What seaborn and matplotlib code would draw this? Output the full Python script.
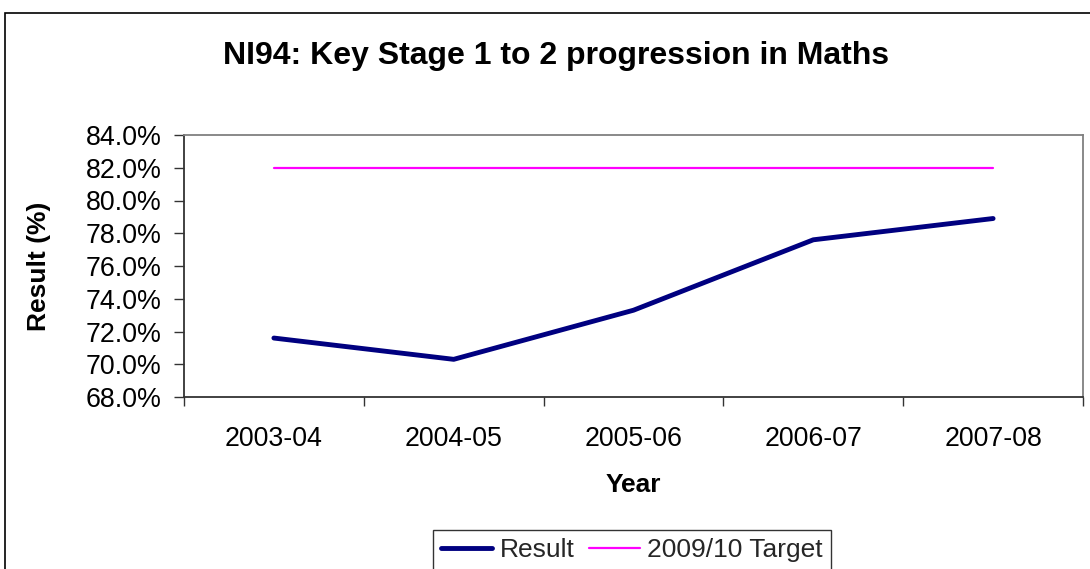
import pandas as pd
import matplotlib
matplotlib.use('Agg')
import matplotlib.pyplot as plt
import seaborn as sns
from matplotlib.patches import Rectangle
from matplotlib.ticker import FixedLocator, PercentFormatter

years = ['2003-04', '2004-05', '2005-06', '2006-07', '2007-08']
result = [71.6, 70.3, 73.3, 77.6, 78.9]
target = [82.0, 82.0, 82.0, 82.0, 82.0]
y_ticks = [68, 70, 72, 74, 76, 78, 80, 82, 84]

sns.set_style('white')
plt.rcParams['font.family'] = ['Liberation Sans', 'DejaVu Sans']

df = pd.DataFrame({'year': years, 'Result': result, '2009/10 Target': target})

fig = plt.figure(figsize=(10.9, 5.69), dpi=100)
ax = fig.add_axes([184 / 1090, 1 - 397 / 569, (1083 - 184) / 1090, (397 - 135) / 569])

sns.lineplot(data=df, x='year', y='Result', color='#000080', linewidth=3.5,
             label='Result', ax=ax, sort=False)
sns.lineplot(data=df, x='year', y='2009/10 Target', color='#FF00FF', linewidth=1.6,
             label='2009/10 Target', ax=ax, sort=False)

ax.set_xlim(-0.5, len(years) - 0.5)
ax.set_ylim(68, 84)
ax.set_yticks(y_ticks)
ax.yaxis.set_major_formatter(PercentFormatter(decimals=1))
ax.xaxis.set_minor_locator(FixedLocator([i - 0.5 for i in range(len(years) + 1)]))
ax.tick_params(axis='x', which='major', length=0, pad=21, labelsize=19.3, labelcolor='black')
ax.tick_params(axis='x', which='minor', length=6.5, width=1, color='#333333', direction='out')
ax.tick_params(axis='y', length=7, width=1, color='#333333', direction='out', pad=9,
               labelsize=19.3, labelcolor='black')
ax.tick_params(bottom=True, left=True, which='both')

for side in ['top', 'right']:
    ax.spines[side].set_color('#808080')
    ax.spines[side].set_linewidth(1.3)
for side in ['left', 'bottom']:
    ax.spines[side].set_color('#333333')
    ax.spines[side].set_linewidth(1.3)

ax.set_xlabel('Year', fontsize=19, fontweight='bold', color='black')
ax.set_ylabel('Result (%)', fontsize=19, fontweight='bold', color='black')
ax.xaxis.set_label_coords(0.5, -0.29)
ax.yaxis.set_label_coords(-0.148, 0.5)
fig.text(0.51, 1 - 56 / 569, 'NI94: Key Stage 1 to 2 progression in Maths',
         fontsize=23, fontweight='bold', ha='center', va='center', color='black')

leg = ax.legend(loc='upper center', bbox_to_anchor=(632 / 1090, 1 - 530 / 569),
                bbox_transform=fig.transFigure, ncol=2, frameon=True, fancybox=False,
                fontsize=19, handlelength=1.95, handletextpad=0.27, columnspacing=0.55,
                borderpad=0.3, borderaxespad=0)
leg.get_frame().set_edgecolor('black')
leg.get_frame().set_linewidth(1.0)

fig.patches.append(Rectangle((5 / 1090, -0.1), 1.2, 1.1 - 13 / 569, transform=fig.transFigure,
                             fill=False, edgecolor='black', linewidth=1.2, zorder=0))

fig.savefig('out.png', dpi=100)
